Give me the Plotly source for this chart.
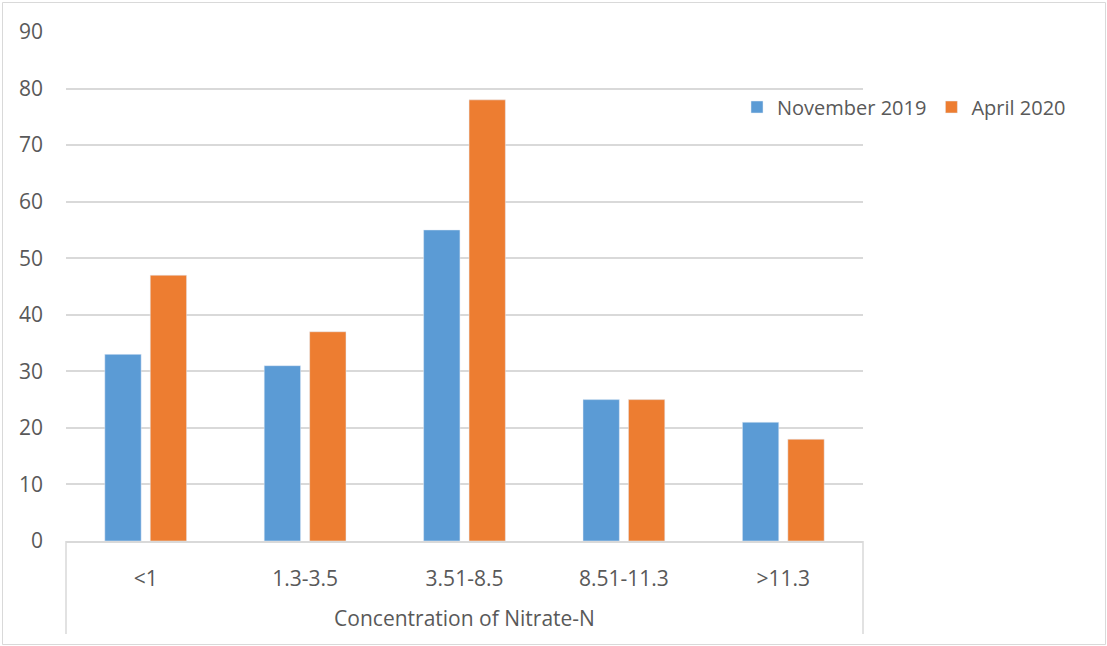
import plotly.graph_objects as go

categories = ["<1", "1.3-3.5", "3.51-8.5", "8.51-11.3", ">11.3"]
nov_2019 = [33, 31, 55, 25, 21]
apr_2020 = [47, 37, 78, 25, 18]
y_ticks = [0, 10, 20, 30, 40, 50, 60, 70, 80, 90]

FONT = "Open Sans"
FS = 21
TXT = "#595959"
GRID = "#d9d9d9"

W, H = 1107, 646
L, R, T, B = 66, 244, 32, 105
pw, ph = W - L - R, H - T - B

fig = go.Figure()
fig.add_trace(go.Bar(name="November 2019", x=categories, y=nov_2019, marker_color="#5B9BD5"))
fig.add_trace(go.Bar(name="April 2020", x=categories, y=apr_2020, marker_color="#ED7D31"))

def px_x(p):
    return (p - L) / pw

def px_y(p):
    return (H - B - p) / ph

shapes = [
    dict(type="line", xref="paper", yref="paper", x0=0, x1=0, y0=0, y1=px_y(634),
         line=dict(color=GRID, width=1.5)),
    dict(type="line", xref="paper", yref="paper", x0=1, x1=1, y0=0, y1=px_y(634),
         line=dict(color=GRID, width=1.5)),
    dict(type="rect", xref="paper", yref="paper", x0=px_x(2.5), x1=px_x(1105.5),
         y0=px_y(644.5), y1=px_y(2.5), line=dict(color=GRID, width=1), layer="below"),
]

fig.update_layout(
    width=W, height=H,
    margin=dict(l=L, r=R, t=T, b=B),
    plot_bgcolor="white", paper_bgcolor="white",
    barmode="group", bargap=0.43, bargroupgap=0.2,
    font=dict(family=FONT, size=FS, color=TXT),
    showlegend=True,
    legend=dict(orientation="h", x=px_x(737), y=px_y(107), xanchor="left", yanchor="middle",
                font=dict(family=FONT, size=20, color=TXT), bgcolor="rgba(0,0,0,0)",
                itemwidth=30, tracegroupgap=0),
    xaxis=dict(showline=True, linecolor=GRID, linewidth=1.5, ticks="",
               tickfont=dict(size=FS, color=TXT), ticklabelstandoff=18,
               title=dict(text="Concentration of Nitrate-N", font=dict(size=FS, color=TXT), standoff=20)),
    yaxis=dict(range=[0, 90], tickvals=y_ticks, showgrid=True, gridcolor=GRID, gridwidth=1.5,
               zeroline=False, showline=False, ticks="", tickfont=dict(size=FS, color=TXT),
               ticklabelstandoff=22),
    shapes=shapes,
)

fig.write_html("out.html")
